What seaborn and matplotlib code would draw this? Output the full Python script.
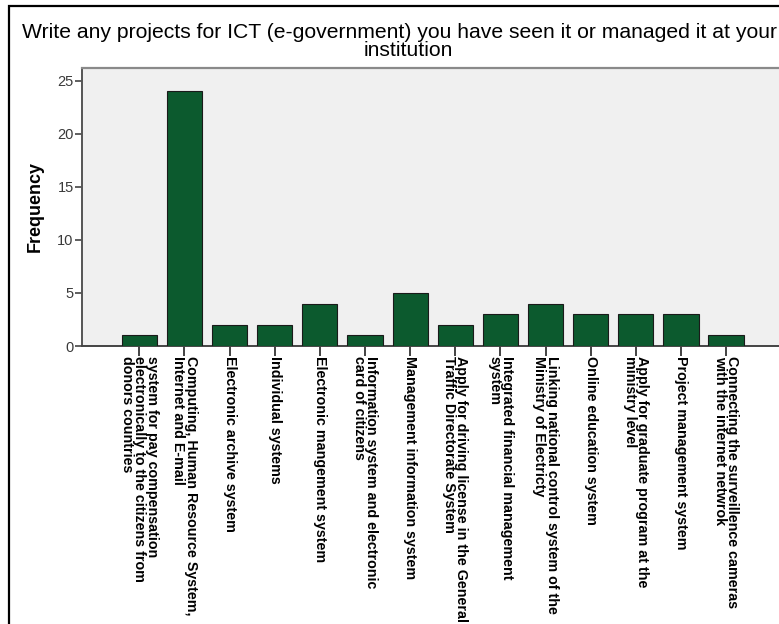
import matplotlib
matplotlib.use("Agg")
import matplotlib.pyplot as plt
import seaborn as sns
import pandas as pd
from matplotlib.patches import Rectangle

# Survey answers: ICT (e-government) projects seen or managed at the institution
projects = [
    "system for pay compensation\nelectronically to the citizens from\ndonors countries",
    "Computing, Human Resource System,\nInternet and E-mail",
    "Electronic archive system",
    "Individual systems",
    "Electronic mangement system",
    "Information system and electronic\ncard of citizens",
    "Management information system",
    "Apply for driving license in the General\nTraffic Directorate System",
    "Integrated financial management\nsystem",
    "Linking national control system of the\nMinistry of Electricty",
    "Online education system",
    "Apply for graduate program at the\nministry level",
    "Project management system",
    "Connecting the surveillence cameras\nwith the internet netwrok",
]
frequency = [1, 24, 2, 2, 4, 1, 5, 2, 3, 4, 3, 3, 3, 1]
y_ticks = [0, 5, 10, 15, 20, 25]

title_lines = [
    "Write any projects for ICT (e-government) you have seen it or managed it at your",
    "institution",
]

df = pd.DataFrame({"project": projects, "frequency": frequency})

sns.set_theme(style="white")
plt.rcParams["font.family"] = ["Liberation Sans", "DejaVu Sans"]

W, H = 779, 624
fig = plt.figure(figsize=(W / 100, H / 100), dpi=100)
fig.patch.set_facecolor("white")

# outer chart frame
fig.patches.append(Rectangle((9 / W, -0.1), 1.2, (H - 6) / H + 0.1,
                             transform=fig.transFigure, fill=False,
                             edgecolor="black", linewidth=1.6, zorder=0))

ax_left, ax_right = 82 / W, 783.4 / W
ax_bottom, ax_top = 1 - 346 / H, 1 - 68 / H
ax = fig.add_axes([ax_left, ax_bottom, ax_right - ax_left, ax_top - ax_bottom])
ax.set_facecolor("#f0f0f0")

sns.barplot(data=df, x="project", y="frequency", color="#0c5a2e",
            saturation=1, width=0.78, edgecolor="#1a1a1a", linewidth=0.8,
            ax=ax, zorder=3)

ax.set_xlim(-1.27, len(projects) - 1 + 1.27)
ax.set_ylim(0, 26.2)
ax.set_yticks(y_ticks)
ax.set_yticklabels([str(v) for v in y_ticks], fontsize=10.5, color="#3a3a3a")
ax.set_xticks(range(len(projects)))
ax.set_xticklabels(projects, rotation=270, ha="center", va="top",
                   multialignment="left",
                   fontsize=10.3, fontweight="bold", color="black",
                   linespacing=0.84)
ax.tick_params(axis="y", direction="out", length=5, width=1.2,
               color="#444444", pad=1, left=True)
ax.tick_params(axis="x", direction="out", length=7, width=1.2,
               color="#222222", pad=0, bottom=True)

ax.set_xlabel("")
ax.set_ylabel("Frequency", fontsize=13, fontweight="bold", color="black",
              labelpad=10)

for side in ("left", "bottom", "top", "right"):
    ax.spines[side].set_visible(True)
ax.spines["left"].set_color("#555555")
ax.spines["left"].set_linewidth(1.4)
ax.spines["bottom"].set_color("#444444")
ax.spines["bottom"].set_linewidth(1.4)
ax.spines["top"].set_color("#8a8a8a")
ax.spines["top"].set_linewidth(1.6)
ax.spines["right"].set_color("#8a8a8a")

# two-line chart title
fig.text(22 / W, 1 - 38 / H, title_lines[0], ha="left", va="baseline",
         fontsize=15.2, color="black")
fig.text(408 / W, 1 - 56 / H, title_lines[1], ha="center", va="baseline",
         fontsize=15.2, color="black")

fig.savefig("out.png", dpi=100, facecolor="white")
